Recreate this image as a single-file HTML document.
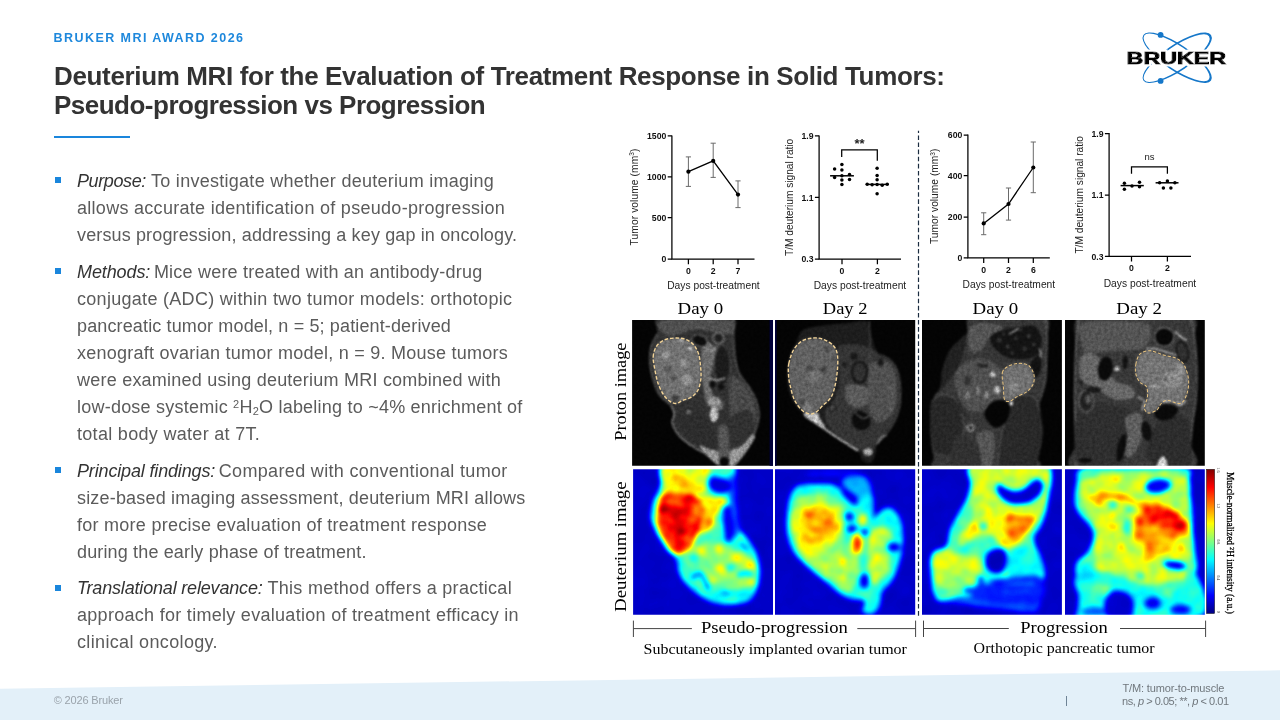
<!DOCTYPE html>
<html lang="en">
<head>
<meta charset="utf-8">
<title>Deuterium MRI for the Evaluation of Treatment Response in Solid Tumors</title>
<style>
html,body{margin:0;padding:0;background:#fff;}
body{width:1280px;height:720px;position:relative;overflow:hidden;font-family:"Liberation Sans",sans-serif;}
.t{position:absolute;white-space:nowrap;margin:0;padding:0;}
.t sup,.t sub{font-size:0.61em;line-height:0;position:relative;vertical-align:baseline;}
.t sup{top:-0.42em;} .t sub{top:0.22em;}
#kicker{font-size:12.5px;line-height:16px;font-weight:bold;color:#1e88dc;}
h1{margin:0;font-size:26px;font-weight:bold;color:#333;}
h1 .t{font-size:26px;line-height:30px;}
#rule{position:absolute;left:54px;top:136px;width:75.5px;height:2px;background:#1a86dc;}
ul{margin:0;padding:0;list-style:none;}
li .t{font-size:18px;line-height:27px;color:#5b5b5b;}
li i.t{color:#333;font-style:italic;}
li b.bu{position:absolute;left:54.5px;width:6px;height:6px;background:#1a86dc;}
#footer{position:absolute;left:0;top:660px;width:1280px;height:60px;}
#copy{font-size:11px;line-height:14px;color:#9aa3ab;}
.note{font-size:11px;line-height:13px;color:#70777d;}
#bar{position:absolute;left:1066px;top:696px;width:1px;height:9.5px;background:#6f8496;}
</style>
</head>
<body>
<svg id="footer" viewBox="0 0 1280 60"><polygon points="0,28.7 1280,10.3 1280,60 0,60" fill="#e3f0f9"/></svg>
<div class="t" id="kicker" style="left:53.60px;top:29.80px;letter-spacing:1.436px;">BRUKER MRI AWARD 2026</div>
<h1><span class="t" style="left:54.00px;top:60.50px;letter-spacing:-0.349px">Deuterium MRI for the Evaluation of Treatment Response in Solid Tumors:</span><span class="t" style="left:54.00px;top:90.10px;letter-spacing:-0.506px">Pseudo-progression vs Progression</span></h1>
<div id="rule"></div>
<ul>
<li><b class="bu" style="top:177.2px"></b><i class="t" style="left:77.00px;top:167.80px;letter-spacing:-0.392px">Purpose:</i><span class="t" style="left:151.04px;top:167.80px;letter-spacing:0.273px">To investigate whether deuterium imaging</span><span class="t" style="left:77.00px;top:194.80px;letter-spacing:0.286px">allows accurate identification of pseudo-progression</span><span class="t" style="left:77.00px;top:221.80px;letter-spacing:0.135px">versus progression, addressing a key gap in oncology.</span></li>
<li><b class="bu" style="top:268.0px"></b><i class="t" style="left:77.00px;top:258.60px;letter-spacing:-0.106px">Methods:</i><span class="t" style="left:153.89px;top:258.60px;letter-spacing:0.214px">Mice were treated with an antibody-drug</span><span class="t" style="left:77.00px;top:285.60px;letter-spacing:0.296px">conjugate (ADC) within two tumor models: orthotopic</span><span class="t" style="left:77.00px;top:312.60px;letter-spacing:0.136px">pancreatic tumor model, n = 5; patient-derived</span><span class="t" style="left:77.00px;top:339.60px;letter-spacing:0.248px">xenograft ovarian tumor model, n = 9. Mouse tumors</span><span class="t" style="left:77.00px;top:366.60px;letter-spacing:0.228px">were examined using deuterium MRI combined with</span><span class="t" style="left:77.00px;top:393.60px;letter-spacing:0.224px">low-dose systemic <sup>2</sup>H<sub>2</sub>O labeling to ~4% enrichment of</span><span class="t" style="left:77.00px;top:420.60px;letter-spacing:0.305px">total body water at 7T.</span></li>
<li><b class="bu" style="top:466.9px"></b><i class="t" style="left:77.00px;top:457.50px;letter-spacing:-0.156px">Principal findings:</i><span class="t" style="left:218.75px;top:457.50px;letter-spacing:0.336px">Compared with conventional tumor</span><span class="t" style="left:77.00px;top:484.50px;letter-spacing:0.182px">size-based imaging assessment, deuterium MRI allows</span><span class="t" style="left:77.00px;top:511.50px;letter-spacing:0.264px">for more precise evaluation of treatment response</span><span class="t" style="left:77.00px;top:538.50px;letter-spacing:0.150px">during the early phase of treatment.</span></li>
<li><b class="bu" style="top:584.8px"></b><i class="t" style="left:77.00px;top:575.40px;letter-spacing:-0.173px">Translational relevance:</i><span class="t" style="left:267.49px;top:575.40px;letter-spacing:0.289px">This method offers a practical</span><span class="t" style="left:77.00px;top:602.40px;letter-spacing:0.290px">approach for timely evaluation of treatment efficacy in</span><span class="t" style="left:77.00px;top:629.40px;letter-spacing:0.345px">clinical oncology.</span></li>
</ul>
<div class="t" id="copy" style="left:53.74px;top:692.70px;letter-spacing:-0.153px">© 2026 Bruker</div>
<div id="bar"></div>
<div class="t note" style="left:1122.40px;top:681.60px;letter-spacing:-0.127px">T/M: tumor-to-muscle</div>
<div class="t note" style="left:1122.01px;top:694.70px;letter-spacing:-0.463px">ns, <i>p</i> &gt; 0.05; **, <i>p</i> &lt; 0.01</div>
<svg id="logo" width="1280" height="100" viewBox="0 0 1280 100" style="position:absolute;left:0;top:0">
<path transform="translate(1177.2 57.8) rotate(34)" d="M-40.80 0A40.80 13.10 0 1 0 40.80 0A40.80 13.10 0 1 0 -40.80 0ZM-39.75 0A39.05 11.50 0 1 1 38.35 0A39.05 11.50 0 1 1 -39.75 0Z" fill="#1577c9" fill-rule="evenodd"/>
<path transform="translate(1177.2 57.8) rotate(-34)" d="M-40.80 0A40.80 13.10 0 1 0 40.80 0A40.80 13.10 0 1 0 -40.80 0ZM-39.75 0A39.05 11.50 0 1 1 38.35 0A39.05 11.50 0 1 1 -39.75 0Z" fill="#1577c9" fill-rule="evenodd"/>
<circle cx="1160.6" cy="34.9" r="2.9" fill="#1577c9"/><circle cx="1160.6" cy="80.9" r="2.9" fill="#1577c9"/>
<filter id="halo" x="-5%" y="-30%" width="110%" height="160%"><feMorphology in="SourceAlpha" operator="dilate" radius="1.7" result="d"/><feFlood flood-color="#fff"/><feComposite in2="d" operator="in" result="h"/><feMerge><feMergeNode in="h"/><feMergeNode in="SourceGraphic"/></feMerge></filter>
<text x="1126.6" y="63.5" font-family='"Liberation Sans",sans-serif' font-weight="bold" font-size="16.6" textLength="99.6" lengthAdjust="spacingAndGlyphs" fill="#000" stroke="#000" stroke-width="0.95" filter="url(#halo)">BRUKER</text>
</svg>
<svg id="figure" width="1280" height="720" viewBox="0 0 1280 720" style="position:absolute;left:0;top:0">

<path d="M671.9 135.4V259.0H754.5" fill="none" stroke="#000" stroke-width="1.25"/>
<path d="M667.7 135.9H671.9M667.7 176.9H671.9M667.7 217.7H671.9M667.7 259.0H671.9M688.4 259.0V264.2M713.2 259.0V264.2M738.0 259.0V264.2" fill="none" stroke="#000" stroke-width="1.25"/>
<text x="666.3" y="139.0" font-family='"Liberation Sans",sans-serif' font-size="8.7" font-weight="bold" text-anchor="end" fill="#111">1500</text>
<text x="666.3" y="180.0" font-family='"Liberation Sans",sans-serif' font-size="8.7" font-weight="bold" text-anchor="end" fill="#111">1000</text>
<text x="666.3" y="220.8" font-family='"Liberation Sans",sans-serif' font-size="8.7" font-weight="bold" text-anchor="end" fill="#111">500</text>
<text x="666.3" y="262.1" font-family='"Liberation Sans",sans-serif' font-size="8.7" font-weight="bold" text-anchor="end" fill="#111">0</text>
<text x="688.4" y="274.1" font-family='"Liberation Sans",sans-serif' font-size="8.7" font-weight="bold" text-anchor="middle" fill="#111">0</text>
<text x="713.2" y="274.1" font-family='"Liberation Sans",sans-serif' font-size="8.7" font-weight="bold" text-anchor="middle" fill="#111">2</text>
<text x="738.0" y="274.1" font-family='"Liberation Sans",sans-serif' font-size="8.7" font-weight="bold" text-anchor="middle" fill="#111">7</text>
<text x="667.2" y="289.0" font-family='"Liberation Sans",sans-serif' font-size="10.25" textLength="92.5" lengthAdjust="spacing" fill="#222">Days post-treatment</text>
<text x="637.6" y="245.4" font-family='"Liberation Sans",sans-serif' font-size="10.2" textLength="96.8" lengthAdjust="spacing" transform="rotate(-90 637.6 245.4)" fill="#222">Tumor volume (mm<tspan dy="-3.5" font-size="6.5">3</tspan><tspan dy="3.5">)</tspan></text>
<path d="M688.4 156.9V186.4M685.8 156.9h5.2M685.8 186.4h5.2M713.2 143.2V177.4M710.6 143.2h5.2M710.6 177.4h5.2M738.0 180.9V207.6M735.4 180.9h5.2M735.4 207.6h5.2" fill="none" stroke="#6a6a6a" stroke-width="1"/>
<polyline points="688.4,171.7 713.2,160.9 738.0,194.6" fill="none" stroke="#000" stroke-width="1.3"/>
<circle cx="688.4" cy="171.7" r="2.1"/>
<circle cx="713.2" cy="160.9" r="2.1"/>
<circle cx="738.0" cy="194.6" r="2.1"/>
<path d="M819.1 135.4V259.0H901.0" fill="none" stroke="#000" stroke-width="1.25"/>
<path d="M814.9 135.9H819.1M814.9 197.4H819.1M814.9 259.0H819.1M842.0 259.0V264.2M877.4 259.0V264.2" fill="none" stroke="#000" stroke-width="1.25"/>
<text x="813.5" y="139.0" font-family='"Liberation Sans",sans-serif' font-size="8.7" font-weight="bold" text-anchor="end" fill="#111">1.9</text>
<text x="813.5" y="200.5" font-family='"Liberation Sans",sans-serif' font-size="8.7" font-weight="bold" text-anchor="end" fill="#111">1.1</text>
<text x="813.5" y="262.1" font-family='"Liberation Sans",sans-serif' font-size="8.7" font-weight="bold" text-anchor="end" fill="#111">0.3</text>
<text x="842.0" y="274.1" font-family='"Liberation Sans",sans-serif' font-size="8.7" font-weight="bold" text-anchor="middle" fill="#111">0</text>
<text x="877.4" y="274.1" font-family='"Liberation Sans",sans-serif' font-size="8.7" font-weight="bold" text-anchor="middle" fill="#111">2</text>
<text x="813.7" y="289.0" font-family='"Liberation Sans",sans-serif' font-size="10.25" textLength="92.5" lengthAdjust="spacing" fill="#222">Days post-treatment</text>
<text x="793.4" y="256.0" font-family='"Liberation Sans",sans-serif' font-size="10.2" textLength="117.3" lengthAdjust="spacing" transform="rotate(-90 793.4 256.0)" fill="#222">T/M deuterium signal ratio</text>
<path d="M830.1 175.8H853.9" stroke="#000" stroke-width="1.5"/>
<circle cx="841.9" cy="164.4" r="1.75"/>
<circle cx="834.6" cy="168.9" r="1.75"/>
<circle cx="841.9" cy="170.1" r="1.75"/>
<circle cx="849.5" cy="174.5" r="1.75"/>
<circle cx="841.9" cy="175.8" r="1.75"/>
<circle cx="834.6" cy="177.4" r="1.75"/>
<circle cx="849.5" cy="179.5" r="1.75"/>
<circle cx="841.9" cy="180.0" r="1.75"/>
<circle cx="841.9" cy="184.5" r="1.75"/>
<path d="M865.8 184.4H888.8" stroke="#000" stroke-width="1.5"/>
<circle cx="877.1" cy="168.2" r="1.75"/>
<circle cx="877.1" cy="175.5" r="1.75"/>
<circle cx="877.1" cy="179.8" r="1.75"/>
<circle cx="867.2" cy="184.2" r="1.75"/>
<circle cx="872.1" cy="184.7" r="1.75"/>
<circle cx="877.1" cy="184.4" r="1.75"/>
<circle cx="882.2" cy="185.2" r="1.75"/>
<circle cx="887.2" cy="184.2" r="1.75"/>
<circle cx="877.1" cy="193.8" r="1.75"/>
<path d="M841.7 157.1V149.8H877.3V160.7" fill="none" stroke="#000" stroke-width="1.25"/>
<text x="859.5" y="148.3" font-family='"Liberation Sans",sans-serif' font-size="13" font-weight="bold" text-anchor="middle" fill="#222">**</text>
<path d="M967.9 134.6V257.9H1049.8" fill="none" stroke="#000" stroke-width="1.25"/>
<path d="M963.7 135.1H967.9M963.7 175.7H967.9M963.7 217.0H967.9M963.7 257.9H967.9M983.7 257.9V263.1M1008.5 257.9V263.1M1033.3 257.9V263.1" fill="none" stroke="#000" stroke-width="1.25"/>
<text x="962.3" y="138.2" font-family='"Liberation Sans",sans-serif' font-size="8.7" font-weight="bold" text-anchor="end" fill="#111">600</text>
<text x="962.3" y="178.8" font-family='"Liberation Sans",sans-serif' font-size="8.7" font-weight="bold" text-anchor="end" fill="#111">400</text>
<text x="962.3" y="220.1" font-family='"Liberation Sans",sans-serif' font-size="8.7" font-weight="bold" text-anchor="end" fill="#111">200</text>
<text x="962.3" y="261.0" font-family='"Liberation Sans",sans-serif' font-size="8.7" font-weight="bold" text-anchor="end" fill="#111">0</text>
<text x="983.7" y="273.0" font-family='"Liberation Sans",sans-serif' font-size="8.7" font-weight="bold" text-anchor="middle" fill="#111">0</text>
<text x="1008.5" y="273.0" font-family='"Liberation Sans",sans-serif' font-size="8.7" font-weight="bold" text-anchor="middle" fill="#111">2</text>
<text x="1033.3" y="273.0" font-family='"Liberation Sans",sans-serif' font-size="8.7" font-weight="bold" text-anchor="middle" fill="#111">6</text>
<text x="962.5" y="287.8" font-family='"Liberation Sans",sans-serif' font-size="10.25" textLength="92.7" lengthAdjust="spacing" fill="#222">Days post-treatment</text>
<text x="938.0" y="244.0" font-family='"Liberation Sans",sans-serif' font-size="10.2" textLength="95.4" lengthAdjust="spacing" transform="rotate(-90 938.0 244.0)" fill="#222">Tumor volume (mm<tspan dy="-3.5" font-size="6.5">3</tspan><tspan dy="3.5">)</tspan></text>
<path d="M983.7 212.8V234.7M981.1 212.8h5.2M981.1 234.7h5.2M1008.5 188.0V220.1M1005.9 188.0h5.2M1005.9 220.1h5.2M1033.3 142.0V192.7M1030.7 142.0h5.2M1030.7 192.7h5.2" fill="none" stroke="#6a6a6a" stroke-width="1"/>
<polyline points="983.7,223.4 1008.5,204.0 1033.3,167.5" fill="none" stroke="#000" stroke-width="1.3"/>
<circle cx="983.7" cy="223.4" r="2.1"/>
<circle cx="1008.5" cy="204.0" r="2.1"/>
<circle cx="1033.3" cy="167.5" r="2.1"/>
<path d="M1109.1 133.0V256.4H1191.0" fill="none" stroke="#000" stroke-width="1.25"/>
<path d="M1104.9 133.5H1109.1M1104.9 195.1H1109.1M1104.9 256.4H1109.1M1131.5 256.4V261.6M1167.4 256.4V261.6" fill="none" stroke="#000" stroke-width="1.25"/>
<text x="1103.5" y="136.6" font-family='"Liberation Sans",sans-serif' font-size="8.7" font-weight="bold" text-anchor="end" fill="#111">1.9</text>
<text x="1103.5" y="198.2" font-family='"Liberation Sans",sans-serif' font-size="8.7" font-weight="bold" text-anchor="end" fill="#111">1.1</text>
<text x="1103.5" y="259.5" font-family='"Liberation Sans",sans-serif' font-size="8.7" font-weight="bold" text-anchor="end" fill="#111">0.3</text>
<text x="1131.5" y="271.3" font-family='"Liberation Sans",sans-serif' font-size="8.7" font-weight="bold" text-anchor="middle" fill="#111">0</text>
<text x="1167.4" y="271.3" font-family='"Liberation Sans",sans-serif' font-size="8.7" font-weight="bold" text-anchor="middle" fill="#111">2</text>
<text x="1103.7" y="286.6" font-family='"Liberation Sans",sans-serif' font-size="10.25" textLength="92.5" lengthAdjust="spacing" fill="#222">Days post-treatment</text>
<text x="1083.4" y="253.6" font-family='"Liberation Sans",sans-serif' font-size="10.2" textLength="117.6" lengthAdjust="spacing" transform="rotate(-90 1083.4 253.6)" fill="#222">T/M deuterium signal ratio</text>
<path d="M1120.6 185.6H1143.8" stroke="#000" stroke-width="1.5"/>
<circle cx="1124.4" cy="183.3" r="1.75"/>
<circle cx="1139.5" cy="182.3" r="1.75"/>
<circle cx="1132.0" cy="185.9" r="1.75"/>
<circle cx="1139.5" cy="186.8" r="1.75"/>
<circle cx="1124.4" cy="189.2" r="1.75"/>
<path d="M1155.6 182.8H1178.5" stroke="#000" stroke-width="1.5"/>
<circle cx="1167.4" cy="180.9" r="1.75"/>
<circle cx="1159.6" cy="182.8" r="1.75"/>
<circle cx="1174.9" cy="182.8" r="1.75"/>
<circle cx="1163.4" cy="188.0" r="1.75"/>
<circle cx="1170.9" cy="188.0" r="1.75"/>
<path d="M1131.5 173.8V166.8H1167.4V173.8" fill="none" stroke="#000" stroke-width="1.25"/>
<text x="1149.5" y="160.4" font-family='"Liberation Sans",sans-serif' font-size="9.5" text-anchor="middle" fill="#222">ns</text>
<path d="M918.5 130.8V615.8" stroke="#1b2c40" stroke-width="1.2" stroke-dasharray="4.6 2.5" stroke-dashoffset="2.5" fill="none"/>
<text x="677.5" y="313.8" font-family='"Liberation Serif",serif' font-size="17" textLength="45.6" lengthAdjust="spacingAndGlyphs" fill="#000">Day 0</text>
<text x="822.8" y="313.8" font-family='"Liberation Serif",serif' font-size="17" textLength="44.7" lengthAdjust="spacingAndGlyphs" fill="#000">Day 2</text>
<text x="972.5" y="313.8" font-family='"Liberation Serif",serif' font-size="17" textLength="45.6" lengthAdjust="spacingAndGlyphs" fill="#000">Day 0</text>
<text x="1116.3" y="313.8" font-family='"Liberation Serif",serif' font-size="17" textLength="45.6" lengthAdjust="spacingAndGlyphs" fill="#000">Day 2</text>
<text x="625.6" y="440.8" font-family='"Liberation Serif",serif' font-size="17" textLength="98.3" lengthAdjust="spacingAndGlyphs" transform="rotate(-90 625.6 440.8)" fill="#000">Proton image</text>
<text x="626.2" y="611.7" font-family='"Liberation Serif",serif' font-size="17" textLength="130.2" lengthAdjust="spacingAndGlyphs" transform="rotate(-90 626.2 611.7)" fill="#000">Deuterium image</text>
<filter id="mri0" x="-5%" y="-5%" width="110%" height="110%" color-interpolation-filters="sRGB"><feGaussianBlur stdDeviation="4.2" result="b"/><feTurbulence type="fractalNoise" baseFrequency="0.07" numOctaves="3" seed="5"/><feColorMatrix type="matrix" values="1 0 0 0 0 1 0 0 0 0 1 0 0 0 0 0 0 0 0 1" result="n"/><feComposite in="b" in2="n" operator="arithmetic" k1="0.5" k2="0.72" k3="0.015" k4="0"/></filter>
<filter id="mri1" x="-5%" y="-5%" width="110%" height="110%" color-interpolation-filters="sRGB"><feGaussianBlur stdDeviation="4.2" result="b"/><feTurbulence type="fractalNoise" baseFrequency="0.07" numOctaves="3" seed="9"/><feColorMatrix type="matrix" values="1 0 0 0 0 1 0 0 0 0 1 0 0 0 0 0 0 0 0 1" result="n"/><feComposite in="b" in2="n" operator="arithmetic" k1="0.5" k2="0.72" k3="0.015" k4="0"/></filter>
<filter id="mri2" x="-5%" y="-5%" width="110%" height="110%" color-interpolation-filters="sRGB"><feGaussianBlur stdDeviation="4.2" result="b"/><feTurbulence type="fractalNoise" baseFrequency="0.07" numOctaves="3" seed="13"/><feColorMatrix type="matrix" values="1 0 0 0 0 1 0 0 0 0 1 0 0 0 0 0 0 0 0 1" result="n"/><feComposite in="b" in2="n" operator="arithmetic" k1="0.5" k2="0.72" k3="0.015" k4="0"/></filter>
<filter id="mri3" x="-5%" y="-5%" width="110%" height="110%" color-interpolation-filters="sRGB"><feGaussianBlur stdDeviation="4.2" result="b"/><feTurbulence type="fractalNoise" baseFrequency="0.07" numOctaves="3" seed="17"/><feColorMatrix type="matrix" values="1 0 0 0 0 1 0 0 0 0 1 0 0 0 0 0 0 0 0 1" result="n"/><feComposite in="b" in2="n" operator="arithmetic" k1="0.5" k2="0.72" k3="0.015" k4="0"/></filter>
<clipPath id="pc0"><rect x="632.1" y="320" width="140.9" height="145.8"/></clipPath>
<g clip-path="url(#pc0)"><g transform="translate(630,317) scale(0.21098)"><g filter="url(#mri0)"><rect x="-40" y="-40" width="780" height="800" fill="#020202"/><path d="M130 0C158 -13 240 0 300 0C360 0 458 -17 490 0C522 17 490 67 492 100C494 133 495 172 500 200C505 228 508 247 520 270C532 293 557 318 570 340C583 362 593 378 600 400C607 422 613 447 612 470C611 493 604 518 595 540C586 562 572 580 560 600C548 620 533 640 520 660C507 680 497 710 480 720C463 730 430 725 420 720C410 715 430 702 420 690C410 678 382 663 360 650C338 637 312 625 290 610C268 595 245 578 230 560C215 542 203 517 200 500C197 483 211 473 210 460C209 447 207 435 195 420C183 405 154 390 140 370C126 350 118 325 110 300C102 275 97 247 95 220C93 193 94 163 100 140C106 117 125 103 130 80C135 57 102 13 130 0Z" fill="#303030"/><path d="M195 420C198 427 209 447 210 460C211 473 197 483 200 500C203 517 215 542 230 560C245 578 268 595 290 610C312 625 338 637 360 650C382 663 410 683 420 690" fill="none" stroke="#a0a0a0" stroke-width="6" stroke-linecap="round" opacity="0.9"/><path d="M490 0C490 17 490 67 492 100C494 133 495 172 500 200C505 228 508 247 520 270C532 293 557 318 570 340C583 362 593 378 600 400C607 422 613 447 612 470C611 493 604 518 595 540C586 562 572 580 560 600C548 620 533 640 520 660C507 680 487 710 480 720" fill="none" stroke="#909090" stroke-width="5" stroke-linecap="round" opacity="0.7"/><path d="M130 80C125 90 106 117 100 140C94 163 93 193 95 220C97 247 102 275 110 300C118 325 126 350 140 370C154 390 186 412 195 420" fill="none" stroke="#606060" stroke-width="8" stroke-linecap="round" opacity="0.8"/><path d="M140 20C165 10 243 10 300 10C357 10 450 8 480 20C510 32 493 72 480 80C467 88 430 73 400 70C370 67 333 57 300 60C267 63 225 88 200 90C175 92 160 82 150 70C140 58 115 30 140 20Z" fill="#505050"/><path d="M345 120C355 102 391 127 400 140C409 153 403 173 400 200C397 227 380 270 380 300C380 330 390 363 400 380C410 397 435 390 440 400C445 410 442 437 430 440C418 443 383 435 370 420C357 405 355 378 350 350C345 322 341 288 340 250C339 212 335 138 345 120Z" fill="#6e6e6e"/><path d="M480 280C488 275 505 287 520 300C535 313 558 338 570 360C582 382 592 403 595 430C598 457 598 495 590 520C582 545 567 577 550 580C533 583 503 567 490 540C477 513 473 455 470 420C467 385 468 353 470 330C472 307 472 285 480 280Z" fill="#4a4a4a"/><path d="M230 470C245 457 305 442 330 450C355 458 367 495 380 520C393 545 410 582 410 600C410 618 398 632 380 630C362 628 323 607 300 590C277 573 252 550 240 530C228 510 215 483 230 470Z" fill="#2c2c2c"/><path d="M470 480C487 460 540 433 560 440C580 447 592 495 590 520C588 545 567 575 550 590C533 605 505 615 490 610C475 605 463 582 460 560C457 538 453 500 470 480Z" fill="#303030"/><path d="M330 610C333 606 365 623 380 628C395 633 412 628 420 640C428 652 428 692 425 700C422 708 411 698 400 690C389 682 372 663 360 650C348 637 327 614 330 610Z" fill="#9a9a9a"/><path d="M470 640C480 625 512 623 530 610C548 597 565 567 575 560C585 553 596 557 592 570C588 583 565 618 550 640C535 662 513 690 500 700C487 710 475 710 470 700C465 690 460 655 470 640Z" fill="#9a9a9a"/><path d="M420 520C427 507 452 507 460 520C468 533 468 570 470 600C472 630 478 683 470 700C462 717 433 717 425 700C417 683 421 630 420 600C419 570 413 533 420 520Z" fill="#555555"/><ellipse cx="447" cy="688" rx="22" ry="24" fill="#050505"/><ellipse cx="330" cy="112" rx="38" ry="26" fill="#0c0c0c" stroke="#707070" stroke-width="5" transform="rotate(20 330 112)"/><ellipse cx="420" cy="100" rx="26" ry="26" fill="#1e1e1e" stroke="#909090" stroke-width="6"/><ellipse cx="437" cy="230" rx="38" ry="95" fill="#1a1a1a" stroke="#555555" stroke-width="4"/><ellipse cx="390" cy="320" rx="15" ry="15" fill="#0a0a0a"/><ellipse cx="432" cy="332" rx="14" ry="14" fill="#0a0a0a"/><path d="M370 150C375 152 393 162 400 160C407 158 408 143 410 140" fill="none" stroke="#c0c0c0" stroke-width="5" stroke-linecap="round"/><path d="M380 290C385 292 398 300 410 300C422 300 443 292 450 290" fill="none" stroke="#c8c8c8" stroke-width="6" stroke-linecap="round"/><ellipse cx="400" cy="400" rx="30" ry="22" fill="#989898"/><ellipse cx="398" cy="462" rx="20" ry="36" fill="#c4c4c4"/><ellipse cx="277" cy="450" rx="15" ry="15" fill="#707070" stroke="#202020" stroke-width="6"/><ellipse cx="530" cy="402" rx="15" ry="18" fill="#585858" stroke="#2a2a2a" stroke-width="5"/><path d="M110 190C111 170 117 153 125 140C133 127 146 117 160 110C174 103 193 101 210 100C227 99 245 100 260 105C275 110 289 118 300 130C311 142 319 157 325 175C331 193 333 219 335 240C337 261 338 282 335 300C332 318 328 337 320 350C312 363 302 372 290 380C278 388 262 390 250 395C238 400 230 409 220 410C210 411 200 407 190 400C180 393 169 383 160 370C151 357 142 338 135 320C128 302 124 282 120 260C116 238 109 210 110 190Z" fill="#727272"/><ellipse cx="180" cy="250" rx="16" ry="16" fill="#505050" opacity="0.8"/><ellipse cx="205" cy="288" rx="14" ry="14" fill="#484848" opacity="0.8"/><ellipse cx="215" cy="388" rx="18" ry="18" fill="#303030" opacity="0.8"/><ellipse cx="285" cy="150" rx="10" ry="10" fill="#d0d0d0" opacity="0.8"/><ellipse cx="240" cy="112" rx="10" ry="10" fill="#c0c0c0" opacity="0.8"/><ellipse cx="170" cy="180" rx="18" ry="18" fill="#a8a8a8" opacity="0.8"/><ellipse cx="270" cy="300" rx="25" ry="25" fill="#a0a0a0" opacity="0.8"/><ellipse cx="150" cy="300" rx="12" ry="12" fill="#606060" opacity="0.8"/><ellipse cx="250" cy="220" rx="20" ry="20" fill="#9c9c9c" opacity="0.8"/></g><path d="M110 190C111 170 117 153 125 140C133 127 146 117 160 110C174 103 193 101 210 100C227 99 245 100 260 105C275 110 289 118 300 130C311 142 319 157 325 175C331 193 333 219 335 240C337 261 338 282 335 300C332 318 328 337 320 350C312 363 302 372 290 380C278 388 262 390 250 395C238 400 230 409 220 410C210 411 200 407 190 400C180 393 169 383 160 370C151 357 142 338 135 320C128 302 124 282 120 260C116 238 109 210 110 190Z" fill="none" stroke="#f0d297" stroke-width="6.6" stroke-dasharray="17 9"/></g></g>
<clipPath id="pc1"><rect x="775.0" y="320" width="140.2" height="145.8"/></clipPath>
<g clip-path="url(#pc1)"><g transform="translate(772,317) scale(0.21098)"><g filter="url(#mri1)"><rect x="-40" y="-40" width="780" height="800" fill="#020202"/><path d="M150 60C172 47 217 45 250 40C283 35 317 33 350 30C383 27 430 12 450 20C470 28 463 58 470 80C477 102 482 133 490 150C498 167 507 170 520 180C533 190 557 195 570 210C583 225 593 247 600 270C607 293 609 323 610 350C611 377 610 405 605 430C600 455 591 478 580 500C569 522 553 543 540 560C527 577 508 585 500 600C492 615 495 635 490 650C485 665 480 685 470 690C460 695 440 688 430 680C420 672 427 655 410 640C393 625 355 606 330 590C305 574 282 560 260 545C238 530 220 516 200 500C180 484 158 468 140 450C122 432 106 412 95 390C84 368 78 345 75 320C72 295 72 265 75 240C78 215 83 190 90 170C97 150 105 138 115 120C125 102 128 73 150 60Z" fill="#1c1c1c"/><path d="M310 150C323 125 373 130 400 130C427 130 450 141 470 150C490 159 503 174 520 185C537 196 557 201 570 215C583 229 592 248 598 270C604 292 606 323 606 350C606 377 605 405 600 430C595 455 586 479 575 500C564 521 548 538 535 555C522 572 506 586 495 600C484 614 482 635 470 640C458 645 442 640 420 630C398 620 365 598 340 580C315 562 285 542 270 520C255 498 245 473 250 450C255 427 288 408 300 380C312 352 318 318 320 280C322 242 297 175 310 150Z" fill="#343434"/><path d="M520 180C528 185 557 195 570 210C583 225 593 247 600 270C607 293 609 323 610 350C611 377 610 405 605 430C600 455 591 478 580 500C569 522 553 543 540 560C527 577 507 593 500 600" fill="none" stroke="#707070" stroke-width="4" stroke-linecap="round" opacity="0.8"/><path d="M470 220C484 205 521 202 540 210C559 218 577 238 585 270C593 302 594 367 590 400C586 433 575 453 560 470C545 487 517 505 500 500C483 495 468 473 460 440C452 407 453 337 455 300C457 263 456 235 470 220Z" fill="#505050"/><path d="M545 330C549 333 568 335 570 350C572 365 560 403 560 420C560 437 568 445 570 450" fill="none" stroke="#787878" stroke-width="5" stroke-linecap="round" opacity="0.8"/><path d="M350 330C358 317 383 318 400 320C417 322 442 325 450 340C458 355 458 395 450 410C442 425 416 432 400 430C384 428 363 417 355 400C347 383 342 343 350 330Z" fill="#5c5c5c"/><path d="M462 20C462 42 465 107 465 150C465 193 462 242 460 280C458 318 452 363 450 380" fill="none" stroke="#666666" stroke-width="3" stroke-linecap="round"/><ellipse cx="415" cy="262" rx="36" ry="50" fill="#303030" stroke="#101010" stroke-width="10"/><ellipse cx="390" cy="187" rx="18" ry="18" fill="#181818"/><ellipse cx="345" cy="225" rx="13" ry="13" fill="#1c1c1c"/><ellipse cx="515" cy="215" rx="14" ry="18" fill="#161616"/><path d="M150 458C155 452 202 452 215 456C228 460 219 469 225 480C231 491 249 514 250 520C251 526 241 520 230 515C219 510 198 500 185 490C172 480 145 464 150 458Z" fill="#c8c8c8"/><path d="M160 470C170 477 197 494 220 510C243 526 269 545 300 565C331 585 388 621 405 632" fill="none" stroke="#c0c0c0" stroke-width="9" stroke-linecap="round"/><path d="M385 460C392 451 408 443 420 445C432 447 452 459 460 470C468 481 468 499 465 510C462 521 451 532 440 535C429 538 410 536 400 530C390 524 382 512 380 500C378 488 378 469 385 460Z" fill="#0a0a0a"/><path d="M395 455C401 459 419 478 430 480C441 482 455 472 460 470" fill="none" stroke="#b0b0b0" stroke-width="4" stroke-linecap="round" opacity="0.8"/><ellipse cx="455" cy="640" rx="22" ry="18" fill="#b8b8b8" opacity="0.9"/><path d="M500 600C503 595 513 577 520 570C527 563 537 562 540 560" fill="none" stroke="#a0a0a0" stroke-width="6" stroke-linecap="round"/><ellipse cx="285" cy="430" rx="15" ry="15" fill="#505050" stroke="#181818" stroke-width="6"/><path d="M80 220C84 202 90 178 100 160C110 142 125 125 140 115C155 105 173 102 190 100C207 98 223 99 240 105C257 111 278 122 290 135C302 148 307 161 310 180C313 199 312 227 310 250C308 273 305 298 300 320C295 342 290 363 280 380C270 397 252 408 240 420C228 432 220 443 210 450C200 457 192 462 180 460C168 458 152 452 140 440C128 428 114 410 105 390C96 370 90 340 85 320C80 300 79 287 78 270C77 253 76 238 80 220Z" fill="#626262"/><ellipse cx="180" cy="245" rx="14" ry="14" fill="#383838" opacity="0.8"/><ellipse cx="245" cy="250" rx="14" ry="14" fill="#343434" opacity="0.8"/><ellipse cx="260" cy="150" rx="12" ry="12" fill="#404040" opacity="0.8"/><ellipse cx="140" cy="405" rx="12" ry="12" fill="#383838" opacity="0.8"/><ellipse cx="200" cy="280" rx="30" ry="30" fill="#787878" opacity="0.8"/><ellipse cx="170" cy="430" rx="20" ry="20" fill="#888888" opacity="0.8"/><ellipse cx="130" cy="250" rx="20" ry="20" fill="#666666" opacity="0.8"/><ellipse cx="290" cy="200" rx="12" ry="12" fill="#484848" opacity="0.8"/></g><path d="M80 220C84 202 90 178 100 160C110 142 125 125 140 115C155 105 173 102 190 100C207 98 223 99 240 105C257 111 278 122 290 135C302 148 307 161 310 180C313 199 312 227 310 250C308 273 305 298 300 320C295 342 290 363 280 380C270 397 252 408 240 420C228 432 220 443 210 450C200 457 192 462 180 460C168 458 152 452 140 440C128 428 114 410 105 390C96 370 90 340 85 320C80 300 79 287 78 270C77 253 76 238 80 220Z" fill="none" stroke="#f0d297" stroke-width="6.6" stroke-dasharray="17 9"/></g></g>
<clipPath id="pc2"><rect x="922.0" y="320" width="139.9" height="145.8"/></clipPath>
<g clip-path="url(#pc2)"><g transform="translate(919,317) scale(0.21098)"><g filter="url(#mri2)"><rect x="-40" y="-40" width="780" height="800" fill="#020202"/><path d="M150 150C172 118 225 85 240 60C255 35 213 10 240 0C267 -10 340 0 400 0C460 0 565 -17 600 0C635 17 607 67 608 100C609 133 606 167 605 200C604 233 604 270 600 300C596 330 585 357 580 380C575 403 569 417 570 440C571 463 583 493 585 520C587 547 584 577 580 600C576 623 567 640 560 660C553 680 617 710 540 720C463 730 178 730 100 720C22 710 78 687 70 660C62 633 58 595 55 560C52 525 52 480 55 450C58 420 62 400 70 380C78 360 93 352 100 330C107 308 102 280 110 250C118 220 128 182 150 150Z" fill="#202020"/><path d="M240 0C268 -13 340 0 400 0C460 0 565 -17 600 0C635 17 607 67 608 100C609 133 606 167 605 200C604 233 604 270 600 300C596 330 585 357 580 380C575 403 569 417 570 440C571 463 583 493 585 520C587 547 584 577 580 600C576 623 567 640 560 660C553 680 617 710 540 720C463 730 178 730 100 720C22 710 78 687 70 660C62 633 58 595 55 560C52 525 52 480 55 450C58 420 61 398 70 380C79 362 97 355 110 340C123 325 137 308 150 290C163 272 179 253 190 230C201 207 208 175 215 150C222 125 226 105 230 80C234 55 212 13 240 0Z" fill="#363636"/><path d="M600 0C601 17 607 67 608 100C609 133 606 167 605 200C604 233 604 270 600 300C596 330 583 367 580 380" fill="none" stroke="#787878" stroke-width="5" stroke-linecap="round" opacity="0.8"/><path d="M180 250C195 230 233 207 260 200C287 193 318 200 340 210C362 220 385 238 395 260C405 282 401 317 400 340C399 363 403 383 390 400C377 417 343 432 320 440C297 448 270 457 250 450C230 443 213 422 200 400C187 378 173 345 170 320C167 295 165 270 180 250Z" fill="#505050"/><path d="M250 40C267 28 305 28 330 30C355 32 398 40 400 50C402 60 357 73 340 90C323 107 315 137 300 150C285 163 262 178 250 170C238 162 230 122 230 100C230 78 233 52 250 40Z" fill="#555555"/><path d="M340 90C349 78 378 67 400 60C422 53 447 53 470 50C493 47 522 35 540 40C558 45 568 63 575 80C582 97 582 123 580 140C578 157 573 170 560 180C547 190 522 198 500 200C478 202 450 200 430 195C410 190 394 181 380 170C366 159 352 143 345 130C338 117 331 102 340 90Z" fill="#121212"/><path d="M430 80C434 78 448 69 455 65C462 61 468 57 470 55" fill="none" stroke="#c0c0c0" stroke-width="6" stroke-linecap="round"/><ellipse cx="380" cy="110" rx="10" ry="10" fill="#3c3c3c"/><ellipse cx="420" cy="140" rx="9" ry="9" fill="#3c3c3c"/><ellipse cx="460" cy="100" rx="8" ry="8" fill="#3c3c3c"/><ellipse cx="500" cy="150" rx="10" ry="10" fill="#3c3c3c"/><ellipse cx="520" cy="90" rx="9" ry="9" fill="#3c3c3c"/><ellipse cx="440" cy="170" rx="8" ry="8" fill="#3c3c3c"/><ellipse cx="400" cy="80" rx="7" ry="7" fill="#3c3c3c"/><ellipse cx="545" cy="130" rx="8" ry="8" fill="#3c3c3c"/><ellipse cx="480" cy="60" rx="7" ry="7" fill="#3c3c3c"/><path d="M525 225C529 212 551 189 560 185C569 181 578 188 580 200C582 212 580 245 575 260C570 275 557 290 550 290C543 290 539 271 535 260C531 249 521 238 525 225Z" fill="#101010"/><path d="M570 150C571 153 577 163 578 170C579 177 576 187 575 190" fill="none" stroke="#d0d0d0" stroke-width="5" stroke-linecap="round"/><path d="M60 400C70 382 92 372 110 370C128 368 155 377 170 390C185 403 193 425 200 450C207 475 212 512 210 540C208 568 200 600 190 620C180 640 167 655 150 660C133 665 105 663 90 650C75 637 66 608 60 580C54 552 52 510 52 480C52 450 50 418 60 400Z" fill="#262626"/><path d="M60 400C68 395 92 372 110 370C128 368 155 377 170 390C185 403 193 425 200 450C207 475 212 512 210 540C208 568 200 600 190 620C180 640 167 655 150 660C133 665 100 652 90 650" fill="none" stroke="#6a6a6a" stroke-width="4" stroke-linecap="round" opacity="0.8"/><path d="M430 420C443 395 462 377 480 370C498 363 524 367 540 380C556 393 568 422 575 450C582 478 586 517 585 550C584 583 578 622 570 650C562 678 568 708 540 720C512 732 427 733 400 720C373 707 380 673 380 640C380 607 392 557 400 520C408 483 417 445 430 420Z" fill="#282828"/><path d="M430 420C425 437 408 483 400 520C392 557 385 607 380 640C375 673 372 707 370 720" fill="none" stroke="#606060" stroke-width="4" stroke-linecap="round" opacity="0.8"/><path d="M480 370C490 372 524 367 540 380C556 393 569 438 575 450" fill="none" stroke="#707070" stroke-width="4" stroke-linecap="round" opacity="0.7"/><path d="M180 560C198 548 242 575 260 590C278 605 285 628 290 650C295 672 310 708 290 720C270 732 193 730 170 720C147 710 148 687 150 660C152 633 162 572 180 560Z" fill="#303030"/><path d="M270 560C278 543 325 533 340 540C355 547 360 570 360 600C360 630 350 700 340 720C330 740 308 733 300 720C292 707 295 667 290 640C285 613 262 577 270 560Z" fill="#555555"/><path d="M315 440C321 428 336 408 350 400C364 392 387 392 400 395C413 398 426 408 430 420C434 432 430 455 425 470C420 485 411 501 400 510C389 519 372 527 360 525C348 523 338 509 330 500C322 491 314 480 312 470C310 460 309 452 315 440Z" fill="#030303"/><ellipse cx="245" cy="525" rx="18" ry="18" fill="#707070" stroke="#909090" stroke-width="5"/><ellipse cx="245" cy="525" rx="8" ry="8" fill="#181818"/><path d="M190 400C192 407 193 427 200 440C207 453 225 473 230 480" fill="none" stroke="#282828" stroke-width="12" stroke-linecap="round"/><ellipse cx="350" cy="272" rx="14" ry="12" fill="#c0c0c0"/><ellipse cx="370" cy="345" rx="13" ry="18" fill="#cccccc"/><ellipse cx="320" cy="370" rx="8" ry="18" fill="#a0a0a0"/><ellipse cx="438" cy="410" rx="9" ry="9" fill="#e0e0e0"/><ellipse cx="230" cy="370" rx="11" ry="22" fill="#787878"/><ellipse cx="280" cy="350" rx="9" ry="22" fill="#7c7c7c"/><ellipse cx="300" cy="230" rx="30" ry="10" fill="#252525"/><ellipse cx="230" cy="300" rx="15" ry="25" fill="#303030"/><path d="M395 265C398 249 408 242 420 235C432 228 453 221 470 220C487 219 508 221 520 230C532 239 542 260 545 275C548 290 546 307 540 320C534 333 523 345 510 355C497 365 473 372 460 380C447 388 439 398 430 400C421 402 410 402 405 390C400 378 402 351 400 330C398 309 392 281 395 265Z" fill="#727272"/><ellipse cx="450" cy="330" rx="25" ry="20" fill="#959595" opacity="0.7"/></g><path d="M395 265C398 249 408 242 420 235C432 228 453 221 470 220C487 219 508 221 520 230C532 239 542 260 545 275C548 290 546 307 540 320C534 333 523 345 510 355C497 365 473 372 460 380C447 388 439 398 430 400C421 402 410 402 405 390C400 378 402 351 400 330C398 309 392 281 395 265Z" fill="none" stroke="#e6c27e" stroke-width="4.8" stroke-dasharray="15 9"/></g></g>
<clipPath id="pc3"><rect x="1065.0" y="320" width="139.8" height="145.8"/></clipPath>
<g clip-path="url(#pc3)"><g transform="translate(1062,317) scale(0.21098)"><g filter="url(#mri3)"><rect x="-40" y="-40" width="780" height="800" fill="#020202"/><path d="M80 0C119 -25 212 0 300 0C388 0 555 -17 610 0C665 17 625 58 630 100C635 142 639 200 640 250C641 300 638 358 635 400C632 442 624 467 620 500C616 533 613 563 610 600C607 637 690 700 600 720C510 740 159 740 70 720C-19 700 67 645 65 600C63 555 61 500 60 450C59 400 59 350 60 300C61 250 62 200 65 150C68 100 41 25 80 0Z" fill="#383838"/><path d="M80 0C78 25 68 100 65 150C62 200 61 250 60 300C59 350 59 400 60 450C61 500 63 555 65 600C67 645 69 700 70 720" fill="none" stroke="#787878" stroke-width="6" stroke-linecap="round" opacity="0.8"/><path d="M610 0C613 17 625 58 630 100C635 142 639 200 640 250C641 300 638 358 635 400C632 442 624 467 620 500C616 533 613 563 610 600C607 637 602 700 600 720" fill="none" stroke="#707070" stroke-width="6" stroke-linecap="round" opacity="0.8"/><path d="M95 30C122 15 199 20 250 20C301 20 372 18 400 30C428 42 423 70 420 90C417 110 408 138 380 150C352 162 293 157 250 160C207 163 147 178 120 170C93 162 94 133 90 110C86 87 68 45 95 30Z" fill="#555555"/><path d="M90 190C102 170 133 162 160 180C187 198 222 275 250 300C278 325 315 317 330 330C345 343 353 370 340 380C327 390 282 398 250 390C218 382 177 345 150 330C123 315 100 323 90 300C80 277 78 210 90 190Z" fill="#686868"/><path d="M80 440C108 390 207 415 250 420C293 425 327 440 340 470C353 500 345 558 330 600C315 642 292 700 250 720C208 740 108 767 80 720C52 673 52 490 80 440Z" fill="#2e2e2e"/><path d="M440 520C460 490 495 477 520 470C545 463 575 465 590 480C605 495 608 520 610 560C612 600 622 693 600 720C578 747 513 732 480 720C447 708 407 683 400 650C393 617 420 550 440 520Z" fill="#2c2c2c"/><path d="M300 480C310 463 357 447 370 460C383 473 387 527 380 560C373 593 345 647 330 660C315 673 293 657 290 640C287 623 308 587 310 560C312 533 290 497 300 480Z" fill="#606060"/><ellipse cx="485" cy="95" rx="46" ry="44" fill="#060606" stroke="#808080" stroke-width="5"/><ellipse cx="570" cy="165" rx="27" ry="50" fill="#303030" stroke="#0c0c0c" stroke-width="7" transform="rotate(-12 570 165)"/><path d="M540 70C544 74 557 88 565 95C573 102 586 108 590 110" fill="none" stroke="#d8d8d8" stroke-width="6" stroke-linecap="round"/><ellipse cx="205" cy="245" rx="35" ry="58" fill="#080808" transform="rotate(8 205 245)"/><ellipse cx="300" cy="215" rx="12" ry="34" fill="#101010"/><ellipse cx="115" cy="400" rx="34" ry="52" fill="#202020" stroke="#707070" stroke-width="5"/><ellipse cx="125" cy="390" rx="14" ry="22" fill="#585858"/><ellipse cx="150" cy="345" rx="38" ry="14" fill="#181818"/><ellipse cx="90" cy="310" rx="12" ry="12" fill="#222222"/><path d="M440 440C447 431 465 418 480 415C495 412 518 415 530 420C542 425 552 435 550 445C548 455 533 472 520 480C507 488 483 492 470 490C457 488 445 478 440 470C435 462 433 449 440 440Z" fill="#080808"/><ellipse cx="400" cy="540" rx="24" ry="48" fill="#0c0c0c" transform="rotate(-10 400 540)"/><ellipse cx="282" cy="620" rx="20" ry="68" fill="#0a0a0a" transform="rotate(12 282 620)"/><ellipse cx="110" cy="680" rx="30" ry="12" fill="#0a0a0a"/><path d="M455 690C460 680 472 658 480 660C488 662 500 690 500 700C500 710 488 717 480 720C472 723 454 725 450 720C446 715 450 700 455 690Z" fill="#dddddd"/><ellipse cx="260" cy="245" rx="12" ry="12" fill="#b8b8b8"/><path d="M400 150C407 150 425 148 440 150C455 152 473 160 490 165C507 170 532 178 540 180" fill="none" stroke="#c8c8c8" stroke-width="8" stroke-linecap="round" opacity="0.85"/><path d="M480 402C487 402 507 398 520 400C533 402 549 415 560 415C571 415 581 402 585 400" fill="none" stroke="#f0f0f0" stroke-width="8" stroke-linecap="round" opacity="0.9"/><path d="M360 380C365 383 387 390 390 400C393 410 382 433 380 440" fill="none" stroke="#c0c0c0" stroke-width="8" stroke-linecap="round" opacity="0.8"/><path d="M350 225C353 209 358 186 370 175C382 164 402 159 420 160C438 161 460 174 480 180C500 186 523 187 540 195C557 203 570 212 580 230C590 248 598 277 600 300C602 323 597 352 590 370C583 388 575 406 560 410C545 414 515 395 500 395C485 395 478 402 470 410C462 418 460 432 450 440C440 448 420 457 410 455C400 453 391 442 390 430C389 418 403 397 405 380C407 363 406 342 400 330C394 318 378 320 370 310C362 300 353 284 350 270C347 256 347 241 350 225Z" fill="#747474"/><ellipse cx="520" cy="300" rx="50" ry="40" fill="#929292" opacity="0.8"/><ellipse cx="430" cy="250" rx="30" ry="40" fill="#787878" opacity="0.8"/><ellipse cx="490" cy="295" rx="12" ry="6" fill="#303030" opacity="0.8"/><ellipse cx="440" cy="330" rx="30" ry="8" fill="#b0b0b0" opacity="0.8"/><ellipse cx="560" cy="250" rx="20" ry="30" fill="#989898" opacity="0.8"/></g><path d="M350 225C353 209 358 186 370 175C382 164 402 159 420 160C438 161 460 174 480 180C500 186 523 187 540 195C557 203 570 212 580 230C590 248 598 277 600 300C602 323 597 352 590 370C583 388 575 406 560 410C545 414 515 395 500 395C485 395 478 402 470 410C462 418 460 432 450 440C440 448 420 457 410 455C400 453 391 442 390 430C389 418 403 397 405 380C407 363 406 342 400 330C394 318 378 320 370 310C362 300 353 284 350 270C347 256 347 241 350 225Z" fill="none" stroke="#e6c27e" stroke-width="4.8" stroke-dasharray="15 9"/></g></g>
<rect x="769.6" y="320" width="3.4" height="145.8" fill="#00003a"/><rect x="775" y="320" width="1.6" height="145.8" fill="#00003a"/>
<filter id="jetf0" x="-5%" y="-5%" width="110%" height="110%" color-interpolation-filters="sRGB"><feGaussianBlur stdDeviation="13" result="b"/><feTurbulence type="fractalNoise" baseFrequency="0.012" numOctaves="2" seed="3"/><feColorMatrix type="matrix" values="1 0 0 0 0 1 0 0 0 0 1 0 0 0 0 0 0 0 0 1" result="n"/><feComposite in="b" in2="n" operator="arithmetic" k1="0.38" k2="0.81" k3="0" k4="0"/><feComponentTransfer><feFuncR type="table" tableValues="0 0 0 0 .5 1 1 1 .5"/><feFuncG type="table" tableValues="0 0 .5 1 1 1 .5 0 0"/><feFuncB type="table" tableValues=".5 1 1 1 .5 0 0 0 0"/><feFuncA type="linear" slope="0" intercept="1"/></feComponentTransfer></filter>
<filter id="jetf1" x="-5%" y="-5%" width="110%" height="110%" color-interpolation-filters="sRGB"><feGaussianBlur stdDeviation="13" result="b"/><feTurbulence type="fractalNoise" baseFrequency="0.012" numOctaves="2" seed="7"/><feColorMatrix type="matrix" values="1 0 0 0 0 1 0 0 0 0 1 0 0 0 0 0 0 0 0 1" result="n"/><feComposite in="b" in2="n" operator="arithmetic" k1="0.38" k2="0.81" k3="0" k4="0"/><feComponentTransfer><feFuncR type="table" tableValues="0 0 0 0 .5 1 1 1 .5"/><feFuncG type="table" tableValues="0 0 .5 1 1 1 .5 0 0"/><feFuncB type="table" tableValues=".5 1 1 1 .5 0 0 0 0"/><feFuncA type="linear" slope="0" intercept="1"/></feComponentTransfer></filter>
<filter id="jetf2" x="-5%" y="-5%" width="110%" height="110%" color-interpolation-filters="sRGB"><feGaussianBlur stdDeviation="13" result="b"/><feTurbulence type="fractalNoise" baseFrequency="0.012" numOctaves="2" seed="11"/><feColorMatrix type="matrix" values="1 0 0 0 0 1 0 0 0 0 1 0 0 0 0 0 0 0 0 1" result="n"/><feComposite in="b" in2="n" operator="arithmetic" k1="0.38" k2="0.81" k3="0" k4="0"/><feComponentTransfer><feFuncR type="table" tableValues="0 0 0 0 .5 1 1 1 .5"/><feFuncG type="table" tableValues="0 0 .5 1 1 1 .5 0 0"/><feFuncB type="table" tableValues=".5 1 1 1 .5 0 0 0 0"/><feFuncA type="linear" slope="0" intercept="1"/></feComponentTransfer></filter>
<filter id="jetf3" x="-5%" y="-5%" width="110%" height="110%" color-interpolation-filters="sRGB"><feGaussianBlur stdDeviation="13" result="b"/><feTurbulence type="fractalNoise" baseFrequency="0.012" numOctaves="2" seed="19"/><feColorMatrix type="matrix" values="1 0 0 0 0 1 0 0 0 0 1 0 0 0 0 0 0 0 0 1" result="n"/><feComposite in="b" in2="n" operator="arithmetic" k1="0.38" k2="0.81" k3="0" k4="0"/><feComponentTransfer><feFuncR type="table" tableValues="0 0 0 0 .5 1 1 1 .5"/><feFuncG type="table" tableValues="0 0 .5 1 1 1 .5 0 0"/><feFuncB type="table" tableValues=".5 1 1 1 .5 0 0 0 0"/><feFuncA type="linear" slope="0" intercept="1"/></feComponentTransfer></filter>
<clipPath id="dc0"><rect x="633.1" y="469.2" width="139.9" height="145.5"/></clipPath>
<g clip-path="url(#dc0)"><g transform="translate(630,466) scale(0.21098)" filter="url(#jetf0)"><rect x="-40" y="-40" width="780" height="800" fill="#121212"/><path d="M150 -10C167 -25 217 -10 250 -10C283 -10 310 -10 350 -10C390 -10 466 -22 490 -10C514 2 493 37 495 60C497 83 498 103 500 130C502 157 502 192 505 220C508 248 511 278 520 300C529 322 547 330 560 350C573 370 591 395 600 420C609 445 615 473 615 500C615 527 609 557 600 580C591 603 582 628 560 640C538 652 500 655 470 655C440 655 408 651 380 640C352 629 323 610 300 590C277 570 253 545 240 520C227 495 230 460 220 440C210 420 193 417 180 400C167 383 152 360 140 340C128 320 117 298 110 280C103 262 100 248 100 230C100 212 105 187 110 170C115 153 123 145 130 130C137 115 147 103 150 80C153 57 133 5 150 -10Z" fill="#6e6e6e"/><path d="M160 -10C195 -25 325 -22 360 -10C395 2 370 38 370 60C370 82 372 107 360 120C348 133 333 138 300 140C267 142 185 140 160 130C135 120 150 103 150 80C150 57 125 5 160 -10Z" fill="#999999"/><ellipse cx="235" cy="70" rx="38" ry="24" fill="#bababa" transform="rotate(35 235 70)"/><path d="M470 60C473 37 489 37 495 60C501 83 501 160 505 200C509 240 521 277 520 300C519 323 507 340 500 340C493 340 484 323 480 300C476 277 477 240 475 200C473 160 467 83 470 60Z" fill="#333333"/><path d="M375 60C380 53 389 48 400 48C411 48 428 54 440 58C452 62 463 63 470 70C477 77 482 91 480 100C478 109 470 120 460 125C450 130 432 132 420 130C408 128 393 122 385 115C377 108 372 99 370 90C368 81 370 67 375 60Z" fill="#171717"/><path d="M440 185C445 177 462 181 470 190C478 199 481 222 485 240C489 258 492 281 492 300C492 319 488 342 482 352C476 362 461 366 455 357C449 348 448 320 445 300C442 280 441 259 440 240C439 221 435 193 440 185Z" fill="#1a1a1a"/><path d="M330 150C347 125 378 148 400 150C422 152 458 157 465 165C472 173 451 186 440 200C429 214 408 235 400 250C392 265 405 278 395 290C385 302 356 318 340 320C324 322 302 328 300 300C298 272 313 175 330 150Z" fill="#9e9e9e"/><ellipse cx="435" cy="165" rx="20" ry="14" fill="#bdbdbd"/><ellipse cx="378" cy="265" rx="16" ry="18" fill="#b8b8b8"/><path d="M135 190C138 168 139 151 150 140C161 129 182 127 200 125C218 123 240 126 260 130C280 134 305 138 320 150C335 162 347 182 350 200C353 218 345 240 340 260C335 280 328 300 320 320C312 340 302 365 290 380C278 395 262 403 250 410C238 417 232 425 220 420C208 415 192 395 180 380C168 365 158 348 150 330C142 312 132 293 130 270C128 247 132 212 135 190Z" fill="#d9d9d9"/><ellipse cx="240" cy="285" rx="45" ry="32" fill="#ebebeb" transform="rotate(20 240 285)"/><ellipse cx="165" cy="210" rx="22" ry="18" fill="#e3e3e3"/><ellipse cx="215" cy="225" rx="30" ry="20" fill="#e3e3e3" transform="rotate(-20 215 225)"/><ellipse cx="250" cy="360" rx="25" ry="18" fill="#e0e0e0"/><path d="M260 420C268 402 300 379 330 370C360 361 408 360 440 365C472 370 495 386 520 400C545 414 577 430 590 450C603 470 603 500 600 520C597 540 590 559 570 570C550 581 508 586 480 585C452 584 425 576 400 565C375 554 350 534 330 520C310 506 292 497 280 480C268 463 252 438 260 420Z" fill="#858585"/><ellipse cx="422" cy="394" rx="20" ry="20" fill="#9e9e9e"/><ellipse cx="508" cy="432" rx="22" ry="22" fill="#9e9e9e"/><ellipse cx="573" cy="470" rx="18" ry="18" fill="#9e9e9e"/><ellipse cx="432" cy="491" rx="24" ry="24" fill="#9e9e9e"/><ellipse cx="573" cy="551" rx="18" ry="18" fill="#9e9e9e"/><ellipse cx="335" cy="405" rx="18" ry="18" fill="#9e9e9e"/><ellipse cx="400" cy="540" rx="18" ry="18" fill="#9e9e9e"/><ellipse cx="297" cy="432" rx="22" ry="16" fill="#5e5e5e"/><ellipse cx="476" cy="480" rx="20" ry="16" fill="#5e5e5e"/><ellipse cx="470" cy="615" rx="110" ry="28" fill="#5e5e5e"/><ellipse cx="560" cy="400" rx="16" ry="26" fill="#5e5e5e"/><path d="M298 528C304 525 326 505 335 508C344 511 349 532 355 545C361 558 369 578 372 585" fill="none" stroke="#333333" stroke-width="20" stroke-linecap="round" stroke-linejoin="round"/><path d="M515 518C520 516 536 506 545 505C554 504 566 511 570 512" fill="none" stroke="#383838" stroke-width="18" stroke-linecap="round" stroke-linejoin="round"/><path d="M440 600 470 605" fill="none" stroke="#383838" stroke-width="14" stroke-linecap="round" stroke-linejoin="round"/><path d="M525 365 550 395" fill="none" stroke="#262626" stroke-width="12" stroke-linecap="round" stroke-linejoin="round"/></g></g>
<clipPath id="dc1"><rect x="775.0" y="469.2" width="140.2" height="145.5"/></clipPath>
<g clip-path="url(#dc1)"><g transform="translate(772,466) scale(0.21098)" filter="url(#jetf1)"><rect x="-40" y="-40" width="780" height="800" fill="#121212"/><ellipse cx="290" cy="36" rx="130" ry="14" fill="#212121"/><path d="M335 62C342 54 362 50 380 48C398 46 426 46 440 52C454 58 461 70 466 85C471 100 472 123 472 140C472 157 473 175 468 185C463 195 450 205 440 200C430 195 422 168 410 155C398 142 382 132 370 122C358 112 346 108 340 98C334 88 328 70 335 62Z" fill="#4c4c4c"/><path d="M415 140C426 128 459 120 470 130C481 140 481 179 482 200C483 221 484 248 475 255C466 262 442 254 430 245C418 236 408 218 405 200C402 182 404 152 415 140Z" fill="#5c5c5c"/><path d="M130 92C147 86 175 87 200 86C225 85 260 83 280 88C300 93 307 102 320 115C333 128 347 152 360 165C373 178 387 182 400 190C413 198 428 205 440 215C452 225 460 247 470 250C480 253 490 240 500 232C510 224 518 208 530 203C542 198 558 197 570 205C582 213 597 229 605 250C613 271 618 305 620 330C622 355 618 377 615 400C612 423 608 447 600 470C592 493 583 518 570 540C557 562 530 580 520 600C510 620 518 643 510 660C502 677 488 695 475 700C462 705 436 700 430 690C424 680 448 650 440 640C432 630 398 635 380 630C362 625 347 620 330 610C313 600 298 585 280 570C262 555 242 538 220 520C198 502 170 480 150 460C130 440 112 422 100 400C88 378 80 355 75 330C70 305 69 277 70 250C71 223 75 192 80 170C85 148 92 133 100 120C108 107 113 98 130 92Z" fill="#666666"/><path d="M100 170C118 142 167 133 200 130C233 127 277 138 300 150C323 162 334 170 340 200C346 230 325 293 335 330C345 367 386 388 400 420C414 452 427 490 420 520C413 550 383 595 360 600C337 605 307 568 280 550C253 532 227 515 200 490C173 465 138 432 120 400C102 368 93 338 90 300C87 262 82 198 100 170Z" fill="#858585"/><path d="M480 300C495 282 525 283 540 290C555 297 570 325 570 340C570 355 542 363 540 380C538 397 560 417 560 440C560 463 553 500 540 520C527 540 493 567 480 560C467 553 465 507 460 480C455 453 447 430 450 400C453 370 465 318 480 300Z" fill="#8f8f8f"/><ellipse cx="427" cy="254" rx="24" ry="28" fill="#999999"/><path d="M110 200C143 177 275 168 310 190C345 212 330 295 320 330C310 365 277 385 250 400C223 415 183 432 160 420C137 408 118 367 110 330C102 293 77 223 110 200Z" fill="#9e9e9e"/><path d="M140 230C148 214 157 209 180 205C203 201 260 196 280 205C300 214 298 242 300 260C302 278 298 297 290 310C282 323 260 329 250 340C240 351 240 370 230 375C220 380 203 376 190 370C177 364 160 352 150 340C140 328 132 318 130 300C128 282 132 246 140 230Z" fill="#b0b0b0"/><ellipse cx="200" cy="303" rx="26" ry="14" fill="#c9c9c9"/><ellipse cx="265" cy="270" rx="20" ry="17" fill="#c9c9c9"/><ellipse cx="200" cy="352" rx="22" ry="12" fill="#c9c9c9"/><ellipse cx="178" cy="232" rx="22" ry="12" fill="#c9c9c9"/><ellipse cx="160" cy="400" rx="22" ry="12" fill="#b2b2b2" transform="rotate(20 160 400)"/><ellipse cx="335" cy="450" rx="16" ry="14" fill="#adadad"/><ellipse cx="403" cy="370" rx="34" ry="55" fill="#9e9e9e"/><ellipse cx="403" cy="370" rx="18" ry="36" fill="#dedede"/><ellipse cx="367" cy="240" rx="20" ry="20" fill="#141414"/><ellipse cx="378" cy="298" rx="22" ry="18" fill="#141414"/><ellipse cx="438" cy="314" rx="17" ry="14" fill="#141414"/><ellipse cx="580" cy="385" rx="30" ry="20" fill="#141414"/><ellipse cx="437" cy="545" rx="21" ry="36" fill="#141414"/><ellipse cx="590" cy="300" rx="18" ry="40" fill="#5c5c5c"/><ellipse cx="300" cy="115" rx="30" ry="15" fill="#5c5c5c"/><ellipse cx="545" cy="255" rx="18" ry="18" fill="#5c5c5c"/><ellipse cx="470" cy="670" rx="20" ry="30" fill="#5c5c5c"/><ellipse cx="520" cy="320" rx="18" ry="18" fill="#9e9e9e"/><ellipse cx="500" cy="440" rx="20" ry="20" fill="#9e9e9e"/><ellipse cx="330" cy="530" rx="18" ry="18" fill="#9e9e9e"/><ellipse cx="250" cy="480" rx="16" ry="16" fill="#9e9e9e"/><ellipse cx="368" cy="145" rx="34" ry="15" fill="#141414" transform="rotate(25 368 145)"/></g></g>
<clipPath id="dc2"><rect x="922.0" y="469.2" width="139.9" height="145.5"/></clipPath>
<g clip-path="url(#dc2)"><g transform="translate(919,466) scale(0.21098)" filter="url(#jetf2)"><rect x="-40" y="-40" width="780" height="800" fill="#121212"/><path d="M250 -10C276 -27 340 -10 400 -10C460 -10 574 -28 610 -10C646 8 616 65 615 100C614 135 611 170 605 200C599 230 590 257 580 280C570 303 548 320 545 340C542 360 552 378 560 400C568 422 585 443 590 470C595 497 594 537 590 560C586 583 597 602 565 610C533 618 452 609 400 610C348 611 283 612 250 615C217 618 225 621 200 625C175 629 122 644 100 640C78 636 77 620 70 600C63 580 62 547 60 520C58 493 52 460 55 440C58 420 68 410 80 400C92 390 118 397 130 380C142 363 142 323 150 300C158 277 168 262 180 240C192 218 209 195 220 170C231 145 240 120 245 90C250 60 224 7 250 -10Z" fill="#737373"/><path d="M120 640C123 635 153 624 200 620C247 616 340 616 400 615C460 614 535 602 560 615C585 628 577 679 550 690C523 701 450 685 400 680C350 675 287 665 250 660C213 655 202 653 180 650C158 647 117 645 120 640Z" fill="#333333"/><path d="M260 -10C318 -28 543 -42 600 -10C657 22 610 135 600 180C590 225 570 243 540 260C510 277 460 280 420 280C380 280 328 273 300 260C272 247 258 227 250 200C242 173 248 135 250 100C252 65 202 8 260 -10Z" fill="#8f8f8f"/><path d="M300 180C317 165 332 178 340 190C348 202 340 243 350 250C360 257 368 233 400 230C432 227 515 223 540 230C565 237 557 252 550 270C543 288 518 320 500 340C482 360 457 383 440 390C423 397 415 390 400 380C385 370 367 340 350 330C333 320 315 317 300 320C285 323 277 340 260 350C243 360 212 383 200 380C188 377 183 347 190 330C197 313 222 305 240 280C258 255 283 195 300 180Z" fill="#9c9c9c"/><path d="M375 85C381 82 392 94 405 100C418 106 434 117 450 118C466 119 486 112 500 105C514 98 524 82 535 75C546 68 556 58 565 60C574 62 589 77 590 90C591 103 583 125 570 140C557 155 532 171 510 178C488 185 459 184 440 180C421 176 407 167 395 157C383 147 371 132 368 120C365 108 369 88 375 85Z" fill="#141414"/><path d="M410 240C416 229 428 225 440 225C452 225 467 238 480 240C493 242 510 232 520 235C530 238 540 249 540 260C540 271 528 288 520 300C512 312 502 322 490 330C478 338 462 345 450 345C438 345 428 339 420 330C412 321 407 305 405 290C403 275 404 251 410 240Z" fill="#c2c2c2"/><ellipse cx="440" cy="317" rx="18" ry="14" fill="#d6d6d6"/><ellipse cx="437" cy="247" rx="16" ry="12" fill="#cccccc"/><ellipse cx="325" cy="200" rx="13" ry="11" fill="#bababa"/><ellipse cx="350" cy="262" rx="10" ry="14" fill="#b2b2b2" transform="rotate(-40 350 262)"/><ellipse cx="305" cy="287" rx="20" ry="18" fill="#5c5c5c"/><path d="M70 420C82 393 128 400 150 400C172 400 178 415 200 420C222 425 263 417 280 430C297 443 303 478 300 500C297 522 285 547 260 560C235 573 180 580 150 580C120 580 93 587 80 560C67 533 58 447 70 420Z" fill="#919191"/><ellipse cx="95" cy="452" rx="18" ry="25" fill="#9e9e9e"/><path d="M430 410C450 393 515 375 540 380C565 385 572 420 580 440C588 460 592 485 585 500C578 515 564 525 540 530C516 535 460 538 440 530C420 522 422 500 420 480C418 460 410 427 430 410Z" fill="#616161"/><path d="M300 545C328 533 377 534 420 530C463 526 531 515 560 520C589 525 593 540 595 560C597 580 602 625 570 640C538 655 448 650 400 650C352 650 305 648 280 640C255 632 247 616 250 600C253 584 272 557 300 545Z" fill="#262626"/><path d="M430 560 540 556" fill="none" stroke="#4c4c4c" stroke-width="9" stroke-linecap="round" stroke-linejoin="round"/><path d="M400 598 520 596" fill="none" stroke="#454545" stroke-width="9" stroke-linecap="round" stroke-linejoin="round"/><path d="M200 640 330 650" fill="none" stroke="#3d3d3d" stroke-width="9" stroke-linecap="round" stroke-linejoin="round"/><path d="M320 420C326 408 338 400 350 395C362 390 379 386 390 390C401 394 412 405 415 420C418 435 416 465 410 480C404 495 392 506 380 510C368 514 351 512 340 505C329 498 318 484 315 470C312 456 314 432 320 420Z" fill="#0f0f0f"/><ellipse cx="325" cy="545" rx="18" ry="16" fill="#5c5c5c"/><ellipse cx="290" cy="535" rx="14" ry="14" fill="#1f1f1f"/><ellipse cx="380" cy="550" rx="16" ry="14" fill="#1f1f1f"/><ellipse cx="250" cy="590" rx="40" ry="14" fill="#262626"/></g></g>
<clipPath id="dc3"><rect x="1065.0" y="469.2" width="139.8" height="145.5"/></clipPath>
<g clip-path="url(#dc3)"><g transform="translate(1062,466) scale(0.21098)" filter="url(#jetf3)"><rect x="-40" y="-40" width="780" height="800" fill="#121212"/><path d="M95 12C133 -0 218 6 300 6C382 6 535 -2 585 10C635 22 595 48 600 80C605 112 612 163 615 200C618 237 618 267 620 300C622 333 627 370 630 400C633 430 642 453 640 480C638 507 622 533 620 560C618 587 630 613 630 640C630 667 658 707 620 720C582 733 448 720 400 720C352 720 355 720 330 720C305 720 272 720 250 720C228 720 230 720 200 720C170 720 88 733 70 720C52 707 83 660 90 640C97 620 113 620 110 600C107 580 77 543 70 520C63 497 60 480 70 460C80 440 117 422 130 400C143 378 150 350 150 330C150 310 142 298 130 280C118 262 92 240 80 220C68 200 62 183 60 160C58 137 64 105 70 80C76 55 57 24 95 12Z" fill="#737373"/><path d="M120 60C195 33 480 17 560 40C640 63 592 137 600 200C608 263 617 360 610 420C603 480 592 530 560 560C528 590 463 600 420 600C377 600 340 573 300 560C260 547 205 547 180 520C155 493 153 437 150 400C147 363 167 333 160 300C153 267 117 240 110 200C103 160 45 87 120 60Z" fill="#919191"/><path d="M70 520C93 483 145 493 200 500C255 507 340 553 400 560C460 567 520 547 560 540C600 533 627 490 640 520C653 550 737 687 640 720C543 753 155 753 60 720C-35 687 47 557 70 520Z" fill="#666666"/><ellipse cx="455" cy="95" rx="62" ry="34" fill="#1c1c1c" transform="rotate(-8 455 95)"/><ellipse cx="430" cy="650" rx="40" ry="30" fill="#1a1a1a"/><ellipse cx="520" cy="600" rx="40" ry="25" fill="#808080"/><ellipse cx="180" cy="590" rx="50" ry="25" fill="#7a7a7a"/><ellipse cx="560" cy="680" rx="50" ry="25" fill="#1f1f1f"/><ellipse cx="150" cy="690" rx="60" ry="20" fill="#333333"/><path d="M130 140C138 132 178 127 200 125C222 123 238 126 260 130C282 134 307 143 330 150C353 157 375 163 400 170C425 177 453 180 480 190C507 200 540 213 560 230C580 247 595 273 600 290C605 307 600 322 590 330C580 338 552 330 540 340C528 350 533 375 520 390C507 405 478 420 460 430C442 440 422 452 410 450C398 448 392 433 390 420C388 407 407 383 400 370C393 357 360 358 350 340C340 322 335 282 340 260C345 238 387 227 380 210C373 193 330 168 300 160C270 152 225 158 200 160C175 162 162 173 150 170C138 167 122 148 130 140Z" fill="#b8b8b8"/><path d="M390 190C398 183 418 197 440 200C462 203 498 202 520 210C542 218 558 235 570 250C582 265 598 292 590 300C582 308 542 302 520 300C498 298 477 295 460 290C443 285 432 278 420 270C408 262 395 253 390 240C385 227 382 197 390 190Z" fill="#d9d9d9"/><ellipse cx="450" cy="250" rx="22" ry="20" fill="#ededed"/><ellipse cx="265" cy="70" rx="15" ry="15" fill="#b2b2b2"/><ellipse cx="240" cy="230" rx="14" ry="14" fill="#adadad"/><ellipse cx="250" cy="290" rx="14" ry="14" fill="#adadad"/><ellipse cx="170" cy="180" rx="16" ry="16" fill="#b8b8b8"/><ellipse cx="570" cy="395" rx="16" ry="16" fill="#b8b8b8"/><ellipse cx="365" cy="265" rx="18" ry="18" fill="#cccccc"/><ellipse cx="360" cy="330" rx="16" ry="16" fill="#bdbdbd"/><ellipse cx="280" cy="380" rx="14" ry="14" fill="#adadad"/><ellipse cx="320" cy="205" rx="20" ry="18" fill="#616161"/><ellipse cx="308" cy="290" rx="14" ry="40" fill="#616161"/><ellipse cx="240" cy="183" rx="20" ry="14" fill="#616161"/><ellipse cx="372" cy="520" rx="20" ry="20" fill="#616161"/><ellipse cx="100" cy="650" rx="30" ry="20" fill="#616161"/><ellipse cx="330" cy="610" rx="40" ry="20" fill="#616161"/><ellipse cx="560" cy="610" rx="40" ry="25" fill="#616161"/><ellipse cx="535" cy="470" rx="56" ry="20" fill="#121212" transform="rotate(8 535 470)"/><path d="M210 620C218 607 235 593 250 590C265 587 286 593 300 600C314 607 328 617 335 630C342 643 342 665 340 680C338 695 340 713 320 720C300 727 240 728 220 720C200 712 202 687 200 670C198 653 202 633 210 620Z" fill="#141414"/><ellipse cx="110" cy="500" rx="30" ry="40" fill="#5c5c5c"/><path d="M-20 430C-10 383 26 432 40 440C54 448 62 460 65 480C68 500 58 537 60 560C62 583 80 593 80 620C80 647 77 703 60 720C43 737 -7 768 -20 720C-33 672 -30 477 -20 430Z" fill="#121212"/></g></g>
<linearGradient id="jet" x1="0" y1="0" x2="0" y2="1"><stop offset="0" stop-color="#800000"/><stop offset="0.125" stop-color="#ff0000"/><stop offset="0.375" stop-color="#ffff00"/><stop offset="0.5" stop-color="#80ff80"/><stop offset="0.625" stop-color="#00ffff"/><stop offset="0.875" stop-color="#0000ff"/><stop offset="1" stop-color="#000080"/></linearGradient>
<rect x="1206.5" y="469.3" width="8.1" height="144.2" fill="url(#jet)" stroke="#111" stroke-width="0.5"/>
<text x="1216.6" y="467.3" font-family='"Liberation Serif",serif' font-size="4.2" transform="rotate(90 1216.6 467.3)" fill="#333">1.6</text>
<text x="1216.6" y="503.2" font-family='"Liberation Serif",serif' font-size="4.2" transform="rotate(90 1216.6 503.2)" fill="#333">1.2</text>
<text x="1216.6" y="539.2" font-family='"Liberation Serif",serif' font-size="4.2" transform="rotate(90 1216.6 539.2)" fill="#333">0.8</text>
<text x="1216.6" y="575.2" font-family='"Liberation Serif",serif' font-size="4.2" transform="rotate(90 1216.6 575.2)" fill="#333">0.4</text>
<text x="1216.6" y="610.7" font-family='"Liberation Serif",serif' font-size="4.2" transform="rotate(90 1216.6 610.7)" fill="#333">0</text>
<text x="1227.0" y="471.9" font-family='"Liberation Serif",serif' font-size="11" textLength="142.0" lengthAdjust="spacingAndGlyphs" transform="rotate(90 1227.0 471.9)" fill="#000" stroke="#000" stroke-width="0.3">Muscle-normalized <tspan dy="-3" font-size="6.5">2</tspan><tspan dy="3">H intensity (a.u.)</tspan></text>
<path d="M633.4 620.6V637M633.4 628.6H691.9M857.3 628.6H915.6M915.6 620.6V637M923.5 620.6V637M923.5 628.5H1008.8M1120 628.5H1205.6M1205.6 620.6V637" fill="none" stroke="#444" stroke-width="1"/>
<text x="701.0" y="632.8" font-family='"Liberation Serif",serif' font-size="17.2" textLength="146.9" lengthAdjust="spacingAndGlyphs" fill="#000">Pseudo-progression</text>
<text x="1020.2" y="632.8" font-family='"Liberation Serif",serif' font-size="17.2" textLength="87.5" lengthAdjust="spacingAndGlyphs" fill="#000">Progression</text>
<text x="643.6" y="653.8" font-family='"Liberation Serif",serif' font-size="15.3" textLength="263.3" lengthAdjust="spacingAndGlyphs" fill="#000">Subcutaneously implanted ovarian tumor</text>
<text x="973.6" y="652.8" font-family='"Liberation Serif",serif' font-size="15.3" textLength="181.1" lengthAdjust="spacingAndGlyphs" fill="#000">Orthotopic pancreatic tumor</text>
</svg>
</body>
</html>
